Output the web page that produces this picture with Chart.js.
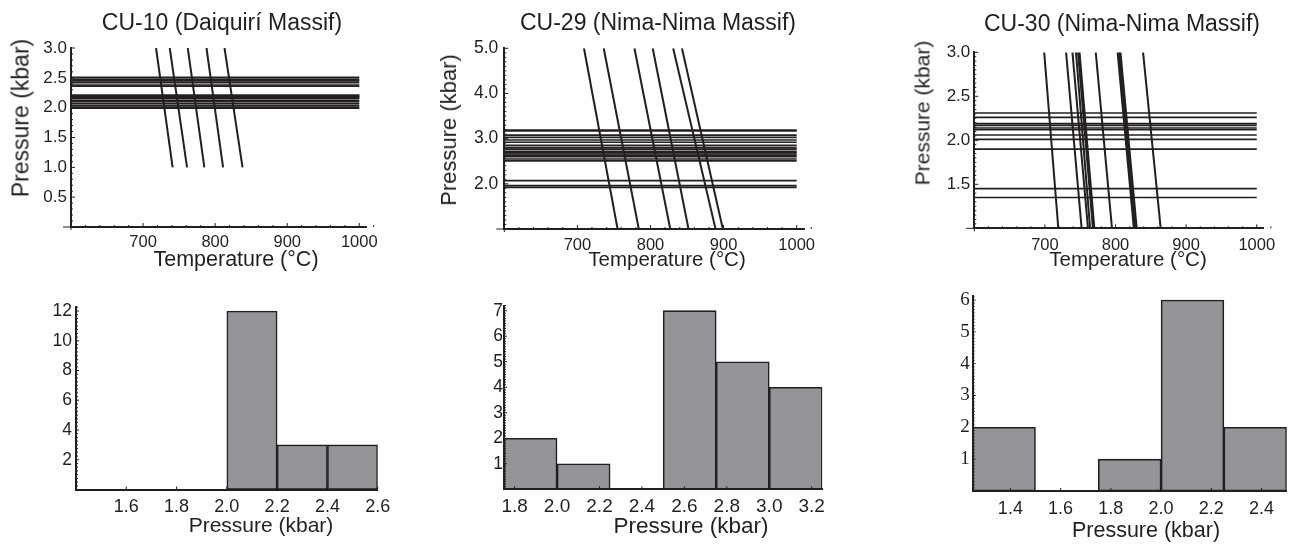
<!DOCTYPE html>
<html>
<head>
<meta charset="utf-8">
<title>Hornblende–plagioclase P–T estimates</title>
<script src="https://cdn.jsdelivr.net/npm/chart.js@4.4.1/dist/chart.umd.min.js"></script>
<style>
  body { margin: 0; background: #fff; }
  #fig {
    position: relative; width: 1292px; height: 544px; overflow: hidden;
    font-family: "Liberation Sans", Arial, sans-serif; color: #231f20;
  }
  #fig canvas { position: absolute; }
  .lbl { position: absolute; white-space: nowrap; line-height: 1; transform: translate(-50%, -50%); }
  .rot { transform: translate(-50%, -50%) rotate(-90deg); }
</style>
</head>
<body>
<div id="fig">
  <canvas id="pt10" width="385" height="290" style="left:0;top:0"></canvas>
  <canvas id="pt29" width="400" height="290" style="left:420px;top:0"></canvas>
  <canvas id="pt30" width="412" height="290" style="left:880px;top:0"></canvas>
  <canvas id="h10" width="400" height="254" style="left:0;top:290px"></canvas>
  <canvas id="h29" width="420" height="254" style="left:420px;top:290px"></canvas>
  <canvas id="h30" width="412" height="254" style="left:880px;top:290px"></canvas>

  <div class="lbl" style="left:222px;top:22px;font-size:23px">CU-10 (Daiquirí Massif)</div>
  <div class="lbl" style="left:658px;top:22px;font-size:23px">CU-29 (Nima-Nima Massif)</div>
  <div class="lbl" style="left:1122px;top:23px;font-size:23px">CU-30 (Nima-Nima Massif)</div>

  <div class="lbl rot" style="left:21px;top:118px;font-size:23px">Pressure (kbar)</div>
  <div class="lbl rot" style="left:449px;top:130px;font-size:22px">Pressure (kbar)</div>
  <div class="lbl rot" style="left:922px;top:113px;font-size:21px">Pressure (kbar)</div>

  <div class="lbl" style="left:236px;top:260px;font-size:21.5px">Temperature (°C)</div>
  <div class="lbl" style="left:667px;top:259px;font-size:20.5px">Temperature (°C)</div>
  <div class="lbl" style="left:1128px;top:259px;font-size:20.5px">Temperature (°C)</div>

  <div class="lbl" style="left:261px;top:524px;font-size:21px">Pressure (kbar)</div>
  <div class="lbl" style="left:691px;top:526px;font-size:22.5px">Pressure (kbar)</div>
  <div class="lbl" style="left:1146px;top:531px;font-size:21.5px">Pressure (kbar)</div>
</div>

<script>
const INK = '#231f20';
const BAR_FILL = '#939598';

// temperature span over which each isobar is plotted (°C)
const tempRange = [600, 1000];
const tempTicks = [700, 800, 900, 1000];

// CU-10 (Daiquirí Massif)
const cu10Isobars = [2.51, 2.48, 2.45, 2.42, 2.38, 2.36,
                     2.21, 2.20, 2.19, 2.18, 2.17, 2.15, 2.12, 2.10, 2.07, 2.04, 2.01, 1.99];
const cu10IsothermP = [3.0, 1.0];
const cu10TempHighP = [718, 737, 762, 788, 813];
const cu10TempLowP = [741, 761, 785, 811, 838];
const cu10PTicks = [0.5, 1.0, 1.5, 2.0, 2.5, 3.0];

// CU-29 (Nima-Nima Massif)
const cu29Isobars = [3.19, 3.17, 3.08, 3.03, 2.97, 2.92, 2.85, 2.80, 2.77,
                     2.72, 2.69, 2.66, 2.63, 2.60, 2.55, 2.51, 2.07, 1.96, 1.92];
const cu29IsothermP = [5.0, 1.0];
const cu29TempHighP = [709, 736, 778, 803, 831, 843];
const cu29TempLowP = [755, 784, 827, 852, 889, 899];
const cu29PTicks = [2.0, 3.0, 4.0, 5.0];

// CU-30 (Nima-Nima Massif)
const cu30Isobars = [2.31, 2.26, 2.19, 2.17, 2.14, 2.12, 2.06, 2.01, 1.90, 1.45, 1.35];
const cu30IsothermP = [3.0, 1.0];
const cu30TempHighP = [699, 730, 739, 744, 747, 749, 772, 803, 805, 807, 839];
const cu30TempLowP = [719, 752, 761, 764, 768, 770, 795, 826, 828, 830, 864];
const cu30PTicks = [1.5, 2.0, 2.5, 3.0];

// pressure histograms
const cu10Bins = ['1.4–1.6', '1.6–1.8', '1.8–2.0', '2.0–2.2', '2.2–2.4', '2.4–2.6'];
const cu10Counts = [0, 0, 0, 12, 3, 3];
const cu10BinTicks = [1.6, 1.8, 2.0, 2.2, 2.4, 2.6];
const cu10CountTicks = [2, 4, 6, 8, 10, 12];

const cu29Bins = ['1.75–2.00', '2.00–2.25', '2.25–2.50', '2.50–2.75', '2.75–3.00', '3.00–3.25'];
const cu29Counts = [2, 1, 0, 7, 5, 4];
const cu29BinTicks = [1.8, 2.0, 2.2, 2.4, 2.6, 2.8, 3.0, 3.2];
const cu29CountTicks = [1, 2, 3, 4, 5, 6, 7];

const cu30Bins = ['1.25–1.50', '1.50–1.75', '1.75–2.00', '2.00–2.25', '2.25–2.50'];
const cu30Counts = [2, 0, 1, 6, 2];
const cu30BinTicks = [1.4, 1.6, 1.8, 2.0, 2.2, 2.4];
const cu30CountTicks = [1, 2, 3, 4, 5, 6];

// small inward ticks along both axes, Mathematica style
const innerTicks = {
  id: 'innerTicks',
  afterDatasetsDraw(chart, args, opts) {
    const { ctx, chartArea: a } = chart;
    ctx.save();
    ctx.strokeStyle = INK;
    ctx.lineWidth = 1;
    ctx.beginPath();
    // axes overshoot the corner a little
    ctx.moveTo(a.left - (opts.overX || 0), a.bottom);
    ctx.lineTo(a.left, a.bottom);
    ctx.moveTo(a.left, a.bottom);
    ctx.lineTo(a.left, a.bottom + (opts.overY || 0));
    for (const id of ['x', 'y']) {
      const spec = opts[id];
      if (!spec) continue;
      const scale = chart.scales[id];
      const n = Math.round((scale.max - spec.from) / spec.step + 1e-6);
      for (let i = 0; i <= n; i++) {
        const p = scale.getPixelForValue(spec.from + i * spec.step);
        const len = i % spec.major === 0 ? spec.long : spec.short;
        if (id === 'x') { ctx.moveTo(p, a.bottom); ctx.lineTo(p, a.bottom - len); }
        else { ctx.moveTo(a.left, p); ctx.lineTo(a.left + len, p); }
      }
    }
    ctx.stroke();
    ctx.restore();
  }
};

// fixes the axis box so the plot area lands where it should
function fixedBox(size) {
  return scale => {
    if (scale.isHorizontal()) scale.height = size; else scale.width = size;
    scale.paddingTop = scale.paddingBottom = scale.paddingLeft = scale.paddingRight = 0;
  };
}

function useTicks(values) {
  return scale => { scale.ticks = values.map(v => ({ value: v })); };
}

function axisStyle(font, padding, format) {
  return {
    grid: { display: false, drawTicks: false },
    border: { color: INK, width: 2 },
    ticks: { color: INK, font, padding, autoSkip: false, maxRotation: 0, callback: format }
  };
}

const oneDecimal = v => Number(v).toFixed(1);
const plain = v => String(v);

function ptChart(id, s) {
  const isobars = s.isobars.map(p => ({
    data: tempRange.map(t => ({ x: t, y: p })),
    borderWidth: 1.7
  }));
  const isotherms = s.hot.map((t, i) => ({
    data: [{ x: t, y: s.isoP[0] }, { x: s.cold[i], y: s.isoP[1] }],
    borderWidth: 2
  }));
  return new Chart(document.getElementById(id), {
    type: 'scatter',
    data: {
      datasets: [...isobars, ...isotherms].map(d => Object.assign(d, {
        showLine: true, borderColor: INK, pointRadius: 0, tension: 0
      }))
    },
    options: {
      responsive: false,
      animation: false,
      events: [],
      layout: { padding: s.pad },
      plugins: {
        legend: { display: false },
        tooltip: { enabled: false },
        innerTicks: {
          overX: 8, overY: 3,
          x: { from: 600, step: 20, major: 5, short: 2, long: 4 },
          y: s.yMinor
        }
      },
      scales: {
        x: Object.assign(axisStyle({ size: s.xFont, family: 'Liberation Sans' }, s.xPad, plain), {
          type: 'linear', min: 600, max: 1010,
          afterBuildTicks: useTicks(tempTicks),
          afterFit: fixedBox(s.xh)
        }),
        y: Object.assign(axisStyle({ size: s.yFont, family: 'Liberation Sans' }, s.yPad, oneDecimal), {
          type: 'linear', min: s.yRange[0], max: s.yRange[1],
          afterBuildTicks: useTicks(s.yTicks),
          afterFit: fixedBox(s.yw)
        })
      }
    },
    plugins: [innerTicks]
  });
}

function histChart(id, s) {
  return new Chart(document.getElementById(id), {
    type: 'bar',
    data: {
      labels: s.bins,
      datasets: [{
        data: s.counts,
        xAxisID: 'bins',
        backgroundColor: BAR_FILL,
        borderColor: INK,
        borderWidth: 1.6,
        borderSkipped: false,
        barPercentage: 1,
        categoryPercentage: 1
      }]
    },
    options: {
      responsive: false,
      animation: false,
      events: [],
      layout: { padding: s.pad },
      plugins: {
        legend: { display: false },
        tooltip: { enabled: false },
        innerTicks: {
          overX: 0, overY: 0,
          x: { from: s.binTicks[0], step: 0.2, major: 1, short: 3, long: 3 },
          y: s.yMinor
        }
      },
      scales: {
        bins: { type: 'category', axis: 'x', position: 'bottom', display: false, offset: true },
        x: Object.assign(axisStyle({ size: s.xFont, family: 'Liberation Sans' }, s.xPad, oneDecimal), {
          type: 'linear', axis: 'x', position: 'bottom', offset: false,
          min: s.range[0], max: s.range[1],
          afterBuildTicks: useTicks(s.binTicks),
          afterFit: fixedBox(s.xh)
        }),
        y: Object.assign(axisStyle({ size: s.yFont, family: s.yFamily || 'Liberation Sans' }, s.yPad, plain), {
          type: 'linear', min: 0, max: s.yMax,
          afterBuildTicks: useTicks(s.countTicks),
          afterFit: fixedBox(s.yw)
        })
      }
    },
    plugins: [innerTicks]
  });
}

// pressure–temperature panels
ptChart('pt10', {
  isobars: cu10Isobars, hot: cu10TempHighP, cold: cu10TempLowP, isoP: cu10IsothermP,
  yRange: [0, 3.0], yTicks: cu10PTicks,
  yMinor: { from: 0, step: 0.1, major: 5, short: 2, long: 4 },
  pad: { left: 0, top: 48, right: 18.5, bottom: 0 }, yw: 71, xh: 63,
  xFont: 16.5, xPad: 6, yFont: 17, yPad: 4
});
ptChart('pt29', {
  isobars: cu29Isobars, hot: cu29TempHighP, cold: cu29TempLowP, isoP: cu29IsothermP,
  yRange: [1.0, 5.0], yTicks: cu29PTicks,
  yMinor: { from: 1.0, step: 0.1, major: 10, short: 2, long: 4 },
  pad: { left: 0, top: 48.3, right: 16, bottom: 0 }, yw: 84.3, xh: 61,
  xFont: 16.5, xPad: 7, yFont: 17.5, yPad: 6
});
ptChart('pt30', {
  isobars: cu30Isobars, hot: cu30TempHighP, cold: cu30TempLowP, isoP: cu30IsothermP,
  yRange: [1.0, 3.0], yTicks: cu30PTicks,
  yMinor: { from: 1.0, step: 0.05, major: 10, short: 2, long: 4 },
  pad: { left: 0, top: 52.3, right: 28.2, bottom: 0 }, yw: 94.3, xh: 61.7,
  xFont: 16.5, xPad: 7, yFont: 17, yPad: 4
});

// pressure histograms
histChart('h10', {
  bins: cu10Bins, counts: cu10Counts, range: [1.4, 2.6], binTicks: cu10BinTicks,
  yMax: 12.25, countTicks: cu10CountTicks,
  yMinor: { from: 0, step: 0.25, major: 8, short: 2, long: 3 },
  pad: { left: 0, top: 17.3, right: 22.3, bottom: 0 }, yw: 76, xh: 54.5,
  xFont: 18, xPad: 7, yFont: 17.5, yPad: 4
});
histChart('h29', {
  bins: cu29Bins, counts: cu29Counts, range: [1.75, 3.25], binTicks: cu29BinTicks,
  yMax: 7.2, countTicks: cu29CountTicks,
  yMinor: { from: 0, step: 0.1, major: 10, short: 2, long: 3 },
  pad: { left: 0, top: 15.6, right: 17.7, bottom: 0 }, yw: 84, xh: 54.7,
  xFont: 19, xPad: 6, yFont: 17.5, yPad: 1
});
histChart('h30', {
  bins: cu30Bins, counts: cu30Counts, range: [1.25, 2.5], binTicks: cu30BinTicks,
  yMax: 6.12, countTicks: cu30CountTicks,
  yMinor: { from: 0, step: 0.1, major: 10, short: 2, long: 3 },
  pad: { left: 0, top: 6.2, right: 5.3, bottom: 0 }, yw: 92.7, xh: 53,
  xFont: 18, xPad: 7, yFont: 19, yFamily: 'Liberation Serif', yPad: 3
});
</script>
</body>
</html>
